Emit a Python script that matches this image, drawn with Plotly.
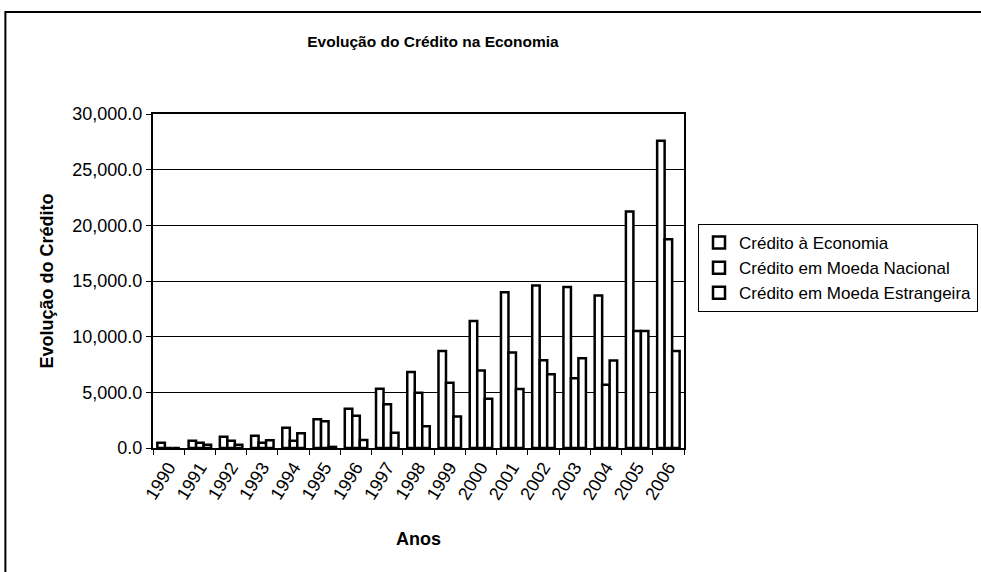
import plotly.graph_objects as go

years = ["1990", "1991", "1992", "1993", "1994", "1995", "1996", "1997", "1998",
         "1999", "2000", "2001", "2002", "2003", "2004", "2005", "2006"]
credito_economia = [470, 660, 1000, 1100, 1820, 2580, 3530, 5330, 6830,
                    8720, 11400, 14000, 14600, 14450, 13700, 21250, 27600]
credito_nacional = [0, 480, 660, 480, 660, 2400, 2900, 3920, 4970,
                    5870, 6950, 8570, 7880, 6260, 5690, 10500, 18750]
credito_estrangeira = [0, 300, 300, 690, 1320, 100, 720, 1380, 1950,
                       2820, 4430, 5300, 6620, 8060, 7850, 10500, 8720]
series_names = ["Crédito à Economia", "Crédito em Moeda Nacional",
                "Crédito em Moeda Estrangeira"]

FONT = "Liberation Sans, Arial, sans-serif"

fig = go.Figure()
for name, vals in zip(series_names,
                      [credito_economia, credito_nacional, credito_estrangeira]):
    fig.add_trace(go.Bar(
        x=years, y=vals, name=name,
        marker=dict(color="white", line=dict(color="black", width=2.5)),
    ))

fig.update_layout(
    width=981, height=572,
    paper_bgcolor="white", plot_bgcolor="white",
    margin=dict(l=153, r=292, t=114, b=124),
    barmode="group", bargap=0.28, bargroupgap=0,
    font=dict(family=FONT, color="black", size=18),
    title=dict(text="<b>Evolução do Crédito na Economia</b>",
               x=433 / 981, xanchor="center", xref="container",
               y=1 - 42 / 572, yanchor="middle", yref="container",
               font=dict(size=15.5, family=FONT, color="black")),
    showlegend=True,
    legend=dict(xref="container", yref="container",
                x=698 / 981, xanchor="left", y=1 - 224 / 572, yanchor="top",
                bordercolor="black", borderwidth=1, bgcolor="white",
                font=dict(size=17, family=FONT, color="black"),
                itemwidth=30, tracegroupgap=0),
    xaxis=dict(
        type="category", showgrid=False,
        showline=True, linecolor="black", linewidth=2, mirror=True,
        ticks="outside", tickson="boundaries", ticklen=5, tickcolor="black",
        tickangle=-58, tickfont=dict(size=18, family=FONT),
        title=dict(text="<b>Anos</b>", font=dict(size=18, family=FONT), standoff=30),
    ),
    yaxis=dict(
        range=[0, 30000], dtick=5000, tickformat=",.1f",
        showgrid=True, gridcolor="black", gridwidth=1,
        showline=True, linecolor="black", linewidth=2, mirror=True,
        ticks="outside", ticklen=5, tickcolor="black",
        tickfont=dict(size=18, family=FONT), zeroline=False,
        title=dict(text="<b>Evolução do Crédito</b>",
                   font=dict(size=18, family=FONT), standoff=14),
    ),
    shapes=[dict(type="rect", xref="paper", yref="paper",
                 x0=(4 - 153) / 536, x1=(990 - 153) / 536,
                 y0=(448 - 580) / 334, y1=(448 - 12) / 334,
                 line=dict(color="black", width=2), layer="below")],
)

fig.write_html("out.html", config={"displayModeBar": False},
               post_script="document.body.style.margin='0px';")
